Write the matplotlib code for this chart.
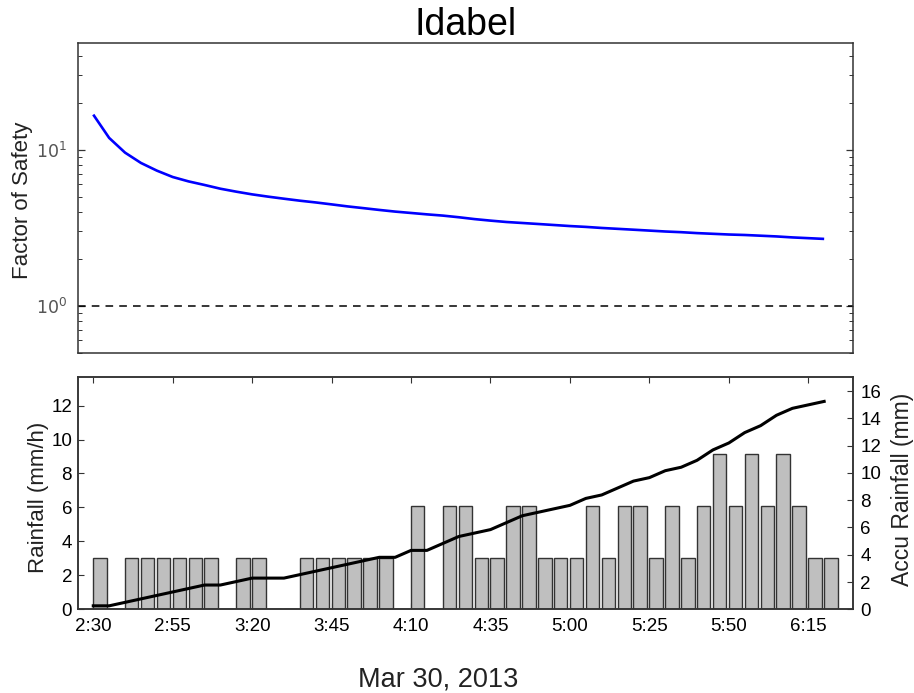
import numpy as np
import matplotlib
matplotlib.use("Agg")
import matplotlib.pyplot as plt
from matplotlib.ticker import FixedLocator, LogLocator, NullFormatter

plt.rcParams["font.family"] = ["Liberation Sans", "DejaVu Sans"]

# ---- data -------------------------------------------------------------
# start of each 5-minute interval, minutes after midnight (02:30 .. 06:20)
times = np.arange(150, 385, 5)

# factor of safety at each interval
factor_of_safety = [
    16.77, 11.89, 9.57, 8.22, 7.34, 6.68, 6.26, 5.94, 5.62, 5.38,
    5.17, 5.00, 4.85, 4.71, 4.59, 4.46, 4.33, 4.22, 4.11, 4.01,
    3.93, 3.85, 3.78, 3.69, 3.59, 3.51, 3.44, 3.39, 3.34, 3.29,
    3.24, 3.20, 3.15, 3.11, 3.07, 3.03, 2.99, 2.96, 2.92, 2.89,
    2.86, 2.84, 2.81, 2.78, 2.74, 2.71, 2.68,
]

# rainfall intensity (mm/h) per 5-minute interval
rain_rate = [
    3.05, 0, 3.05, 3.05, 3.05, 3.05, 3.05, 3.05, 0, 3.05,
    3.05, 0, 0, 3.05, 3.05, 3.05, 3.05, 3.05, 3.05, 0,
    6.10, 0, 6.10, 6.10, 3.05, 3.05, 6.10, 6.10, 3.05, 3.05,
    3.05, 6.10, 3.05, 6.10, 6.10, 3.05, 6.10, 3.05, 6.10, 9.14,
    6.10, 9.14, 6.10, 9.14, 6.10, 3.05, 3.05,
]

# accumulated rainfall (mm)
accu_rain = [
    0.254, 0.254, 0.508, 0.762, 1.016, 1.270, 1.524, 1.778, 1.778, 2.032,
    2.286, 2.286, 2.286, 2.540, 2.794, 3.048, 3.302, 3.556, 3.810, 3.810,
    4.318, 4.318, 4.826, 5.334, 5.588, 5.842, 6.350, 6.858, 7.112, 7.366,
    7.620, 8.128, 8.382, 8.890, 9.398, 9.652, 10.160, 10.414, 10.922, 11.684,
    12.192, 12.954, 13.462, 14.224, 14.732, 14.986, 15.240,
]

tick_times = [150, 175, 200, 225, 250, 275, 300, 325, 350, 375]
tick_labels = ["2:30", "2:55", "3:20", "3:45", "4:10", "4:35",
               "5:00", "5:25", "5:50", "6:15"]

station = "Idabel"
date_label = "Mar 30, 2013"
fs_threshold = 1.0

# ---- figure -----------------------------------------------------------
W, H = 914, 693
fig = plt.figure(figsize=(W / 100, H / 100), dpi=100)

spine_col = "#333333"
xlim = (145.3, 389.2)

# upper panel: factor of safety (log scale)
ax1 = fig.add_axes([0.0857, 0.491, 0.848, 0.4465])
ax1.plot(times, factor_of_safety, color="#0000ff", lw=1.9, solid_capstyle="butt")
ax1.axhline(fs_threshold, color="black", lw=1.1, ls=(0, (5, 4)))
ax1.set_yscale("log")
ax1.set_ylim(0.5, 48)
ax1.set_xlim(*xlim)
ax1.yaxis.set_major_locator(LogLocator(base=10, numticks=5))
ax1.yaxis.set_minor_locator(LogLocator(base=10, subs=np.arange(2, 10), numticks=10))
ax1.yaxis.set_minor_formatter(NullFormatter())
ax1.tick_params(axis="y", which="both", direction="in", left=True, right=True,
                labelsize=12.5, labelcolor="#555555", pad=8, color=spine_col)
ax1.tick_params(axis="y", which="major", length=5, width=0.9)
ax1.tick_params(axis="y", which="minor", length=3, width=0.7)
ax1.tick_params(axis="x", bottom=False, top=False, labelbottom=False)
for lab in ax1.get_yticklabels():
    lab.set_family("DejaVu Sans")
for s in ax1.spines.values():
    s.set_color(spine_col)
    s.set_linewidth(1.1)
ax1.set_title(station, fontsize=27, pad=6)

# lower panel: rainfall intensity bars and accumulated rainfall
ax2 = fig.add_axes([0.0857, 0.1208, 0.848, 0.3356])
ax2.bar(times, rain_rate, width=4.2, align="edge", color="#bfbfbf",
        edgecolor="#333333", linewidth=1.0, zorder=2)
ax2.set_xlim(*xlim)
ax2.set_ylim(0, 13.7)
ax2.yaxis.set_major_locator(FixedLocator(np.arange(0, 13, 2)))
ax2.xaxis.set_major_locator(FixedLocator(tick_times))
ax2.set_xticklabels(tick_labels)
ax2.tick_params(axis="x", direction="in", top=True, bottom=True, length=4,
                width=0.8, labelsize=13.5, pad=6, color=spine_col)
ax2.tick_params(axis="y", direction="in", left=True, right=False, length=4,
                width=0.8, labelsize=13.5, pad=4.5, color=spine_col)

ax3 = ax2.twinx()
ax3.plot(times, accu_rain, color="black", lw=2.2, zorder=3)
ax3.set_ylim(0, 17.05)
ax3.yaxis.set_major_locator(FixedLocator(np.arange(0, 17, 2)))
ax3.tick_params(axis="y", direction="in", right=True, left=False, length=4,
                width=0.8, labelsize=13.5, pad=5, color=spine_col)
for a in (ax2, ax3):
    for s in a.spines.values():
        s.set_color(spine_col)
        s.set_linewidth(1.1)

# axis labels
fig.text(22.5 / W, 1 - 200 / H, "Factor of Safety", rotation=90,
         ha="center", va="center", fontsize=16, color="#222222")
fig.text(39 / W, 1 - 497 / H, "Rainfall (mm/h)", rotation=90,
         ha="center", va="center", fontsize=16, color="#222222")
fig.text(903 / W, 1 - 489 / H, "Accu Rainfall (mm)", rotation=90,
         ha="center", va="center", fontsize=16.5, color="#222222")
fig.text(438 / W, 1 - 686.7 / H, date_label, ha="center", va="baseline",
         fontsize=19.5, color="#222222")

fig.savefig("out.png", dpi=100)
